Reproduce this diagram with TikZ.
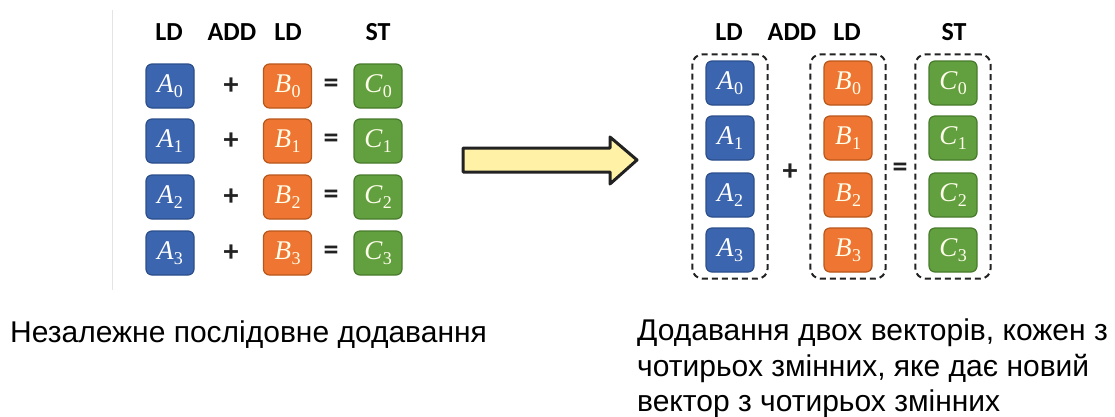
\documentclass[tikz,border=0pt]{standalone}
\usepackage{fontspec}
\setmainfont{Liberation Sans}
\newfontfamily\hdrfont{Carlito}
\newfontfamily\varfont{Liberation Serif}
\usetikzlibrary{fit}
\definecolor{blueF}{HTML}{3C65AF}
\definecolor{blueD}{HTML}{2C4F8C}
\definecolor{orangeF}{HTML}{EE7632}
\definecolor{orangeD}{HTML}{B9561A}
\definecolor{greenF}{HTML}{62A03F}
\definecolor{greenD}{HTML}{477A2B}
\definecolor{arrowF}{HTML}{FFF1A6}
\definecolor{ink}{HTML}{222222}
\definecolor{rule}{HTML}{E4E4E4}
% variable name: italic letter with an upright index below the baseline
\newcommand\varname[2]{{\varfont\itshape #1}\kern0.5pt\raisebox{-5pt}{\varfont\fontsize{18}{18}\selectfont #2}}
\tikzset{
  cell/.style={rounded corners=6pt, minimum width=48pt, minimum height=44pt,
    line width=1.2pt, inner sep=0pt, font=\fontsize{27}{27}\selectfont},
  acell/.style={cell, fill=blueF, draw=blueD, text=white},
  bcell/.style={cell, fill=orangeF, draw=orangeD, text=white!92!yellow},
  ccell/.style={cell, fill=greenF, draw=greenD, text=white!92!yellow},
  hdr/.style={font=\hdrfont\bfseries\fontsize{26}{26}\selectfont, text=black},
  op/.style={font=\hdrfont\bfseries\fontsize{30}{30}\selectfont, text=ink},
  group/.style={draw=ink, dashed, dash pattern=on 6pt off 4pt, line width=2pt,
    rounded corners=10pt, inner xsep=13pt, inner ysep=6pt},
  caption/.style={font=\fontsize{30}{30}\selectfont, text=black, anchor=base west,
    inner sep=0pt}
}
\begin{document}
\begin{tikzpicture}[x=1pt,y=-1pt]
\useasboundingbox (0,0) rectangle (1115,416);
\fill[white] (0,0) rectangle (1115,416);

% thin frame line at the left of the first panel
\draw[rule, line width=1pt] (112,10) -- (112,290);

% ---- independent scalar additions ----
\node[hdr] (lhA) at (169,32) {LD};
\node[hdr] (lhOp) at (232,32) {ADD};
\node[hdr] (lhB) at (288,32) {LD};
\node[hdr] (lhC) at (378,32) {ST};
\foreach \i/\y in {0/86,1/141,2/197,3/253} {
  \node[acell] (la\i) at (170,\y) {\varname{A}{\i}};
  \node[op]    (lp\i) at (231,\y) {+};
  \node[bcell] (lb\i) at (287.5,\y) {\varname{B}{\i}};
  \node[op]    (le\i) at (331,\y) {=};
  \node[ccell] (lc\i) at (378,\y) {\varname{C}{\i}};
}

% ---- transition arrow ----
\draw[ink, line width=3pt, line join=round, fill=arrowF]
  (463,148) -- (610,148) -- (610,137) -- (637,160) -- (610,184) -- (610,172) -- (463,172) -- cycle;

% ---- vector addition ----
\node[hdr] (rhA) at (729,32) {LD};
\node[hdr] (rhOp) at (792,32) {ADD};
\node[hdr] (rhB) at (847,32) {LD};
\node[hdr] (rhC) at (954,32) {ST};
\foreach \i/\y in {0/83,1/138,2/195,3/250} {
  \node[acell] (ra\i) at (730,\y) {\varname{A}{\i}};
  \node[bcell] (rb\i) at (848,\y) {\varname{B}{\i}};
  \node[ccell] (rc\i) at (953,\y) {\varname{C}{\i}};
}
\node[group, fit=(ra0)(ra3)] (vecA) {};
\node[group, fit=(rb0)(rb3)] (vecB) {};
\node[group, fit=(rc0)(rc3)] (vecC) {};
\node[op] (rplus) at (790,172) {+};
\node[op] (requal) at (900,170) {=};

% ---- captions ----
\node[caption] (capL) at (10,342) {Незалежне послідовне додавання};
\node[caption] (capR1) at (637,340) {Додавання двох векторів, кожен з};
\node[caption] (capR2) at (637,376) {чотирьох змінних, яке дає новий};
\node[caption] (capR3) at (637,411) {вектор з чотирьох змінних};
\end{tikzpicture}
\end{document}
